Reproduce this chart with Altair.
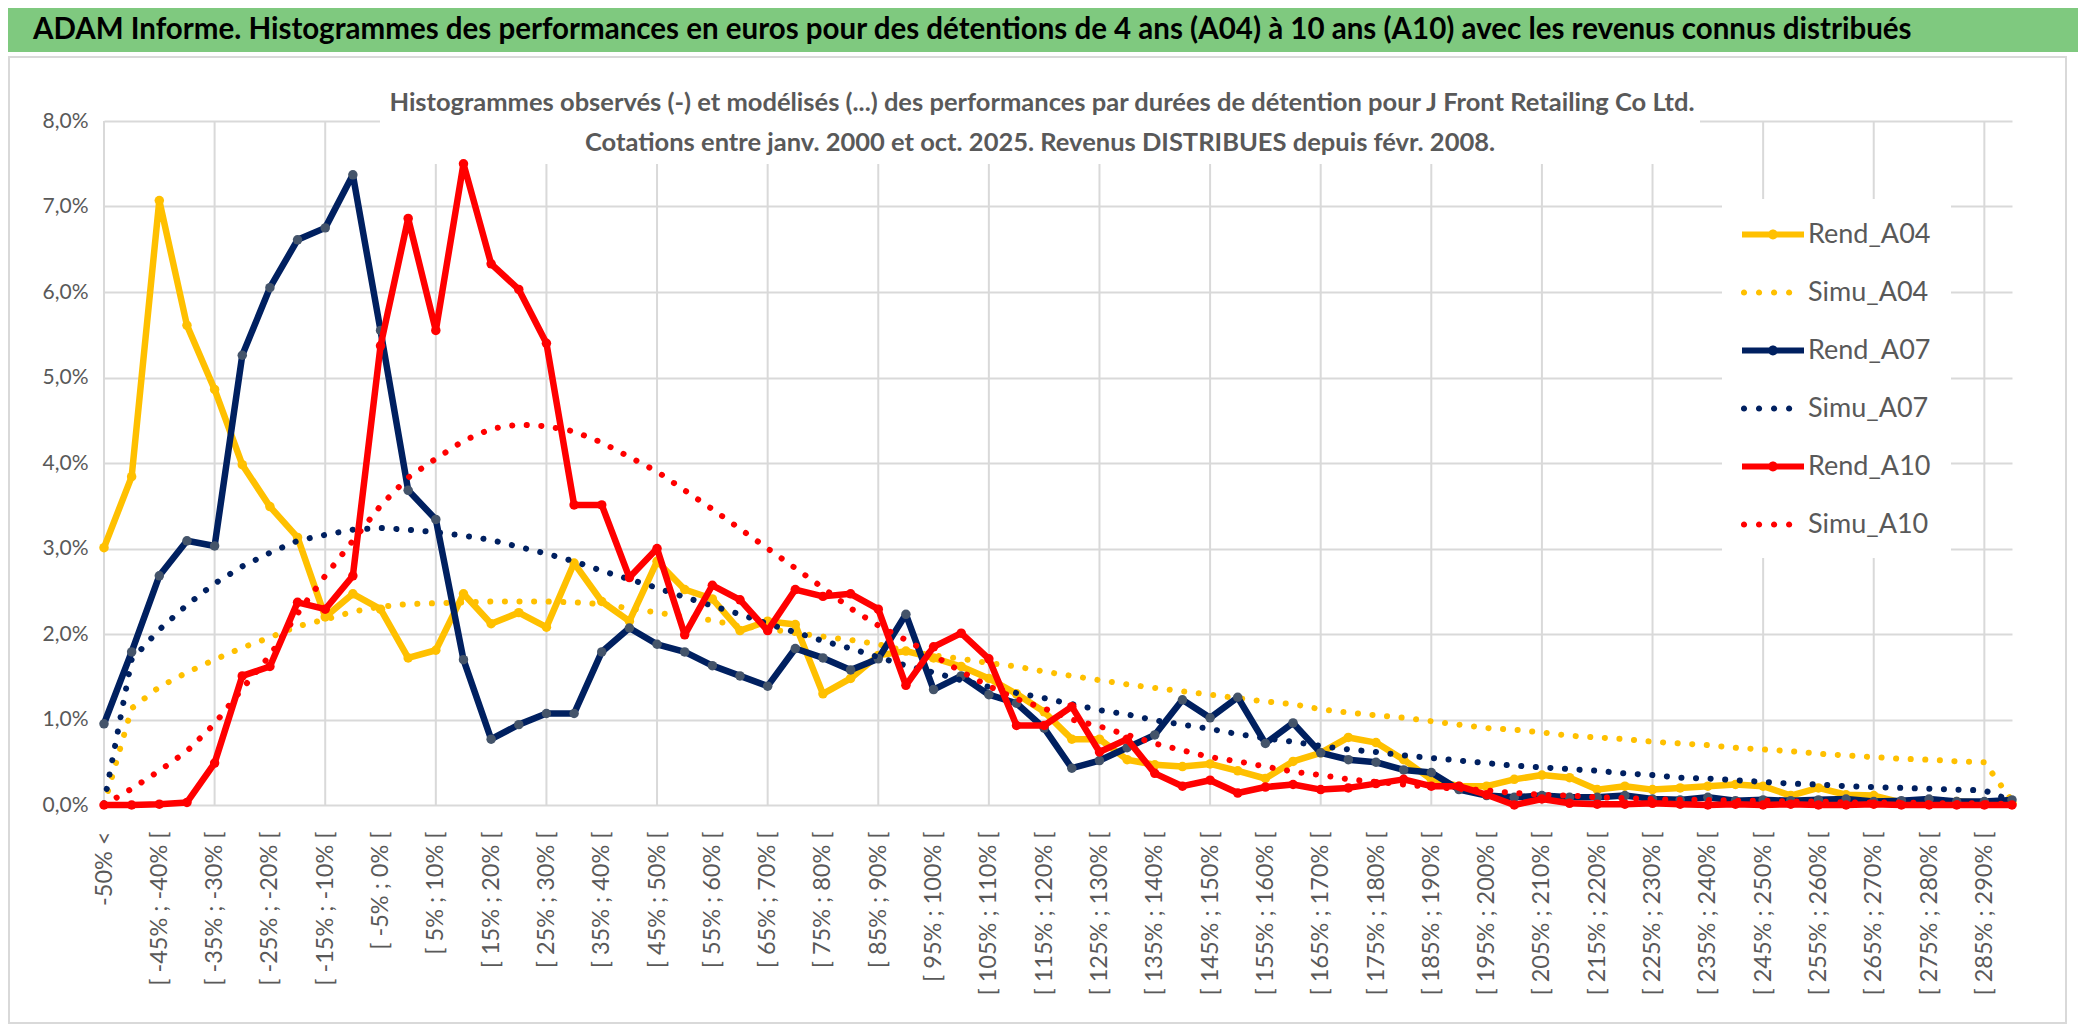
import altair as alt
import pandas as pd

# ---------------- data ----------------
categories = ["-50% <"] + [f"[ {-50 + 5 * k}% ; {-45 + 5 * k}% [" for k in range(69)]
label_values = categories[::2]
grid_values = categories[::4]

series_names = ["Rend_A04", "Simu_A04", "Rend_A07", "Simu_A07", "Rend_A10", "Simu_A10"]
series_colors = ["#FFC000", "#FFC000", "#002060", "#002060", "#FF0000", "#FF0000"]
marker_colors = {"Rend_A04": "#FFC000", "Rend_A07": "#44546A", "Rend_A10": "#FF0000"}

# values in %
rend_a04 = [3.01, 3.84, 7.07, 5.61, 4.86, 3.98, 3.49, 3.13, 2.20, 2.47,
            2.29, 1.72, 1.81, 2.47, 2.12, 2.25, 2.08, 2.83, 2.38, 2.15,
            2.85, 2.52, 2.41, 2.04, 2.15, 2.11, 1.30, 1.48, 1.75, 1.80,
            1.72, 1.62, 1.48, 1.30, 1.09, 0.77, 0.77, 0.53, 0.47, 0.45,
            0.48, 0.40, 0.31, 0.51, 0.61, 0.79, 0.73, 0.53, 0.30, 0.22,
            0.22, 0.30, 0.35, 0.32, 0.18, 0.22, 0.18, 0.20, 0.22, 0.24,
            0.22, 0.11, 0.20, 0.12, 0.11, 0.03, 0.05, 0.04, 0.03, 0.02]
simu_a04 = [0.00, 1.13, 1.38, 1.55, 1.70, 1.84, 1.96, 2.09, 2.17, 2.26,
            2.32, 2.35, 2.36, 2.37, 2.38, 2.38, 2.38, 2.37, 2.35, 2.30,
            2.25, 2.20, 2.16, 2.09, 2.06, 2.01, 1.97, 1.93, 1.88, 1.80,
            1.75, 1.71, 1.66, 1.62, 1.56, 1.51, 1.46, 1.41, 1.37, 1.33,
            1.29, 1.25, 1.21, 1.18, 1.12, 1.08, 1.05, 1.02, 0.98, 0.94,
            0.90, 0.88, 0.85, 0.81, 0.79, 0.77, 0.74, 0.72, 0.70, 0.67,
            0.65, 0.63, 0.60, 0.58, 0.56, 0.54, 0.53, 0.51, 0.50, 0.05]
rend_a07 = [0.95, 1.79, 2.68, 3.09, 3.03, 5.26, 6.05, 6.61, 6.75, 7.37,
            5.55, 3.68, 3.34, 1.70, 0.77, 0.94, 1.07, 1.07, 1.79, 2.07,
            1.88, 1.79, 1.63, 1.51, 1.39, 1.83, 1.72, 1.58, 1.71, 2.23,
            1.35, 1.51, 1.29, 1.19, 0.90, 0.43, 0.52, 0.67, 0.82, 1.23,
            1.02, 1.26, 0.72, 0.96, 0.61, 0.53, 0.50, 0.41, 0.38, 0.18,
            0.11, 0.09, 0.11, 0.09, 0.09, 0.11, 0.07, 0.06, 0.09, 0.05,
            0.06, 0.05, 0.06, 0.07, 0.04, 0.05, 0.07, 0.04, 0.04, 0.06]
simu_a07 = [0.02, 1.70, 2.05, 2.34, 2.59, 2.79, 2.95, 3.09, 3.16, 3.22,
            3.24, 3.22, 3.19, 3.15, 3.10, 3.02, 2.94, 2.85, 2.74, 2.64,
            2.54, 2.43, 2.33, 2.23, 2.12, 2.02, 1.92, 1.83, 1.73, 1.63,
            1.55, 1.46, 1.38, 1.31, 1.25, 1.18, 1.11, 1.06, 0.99, 0.94,
            0.89, 0.83, 0.78, 0.74, 0.69, 0.65, 0.62, 0.58, 0.55, 0.52,
            0.49, 0.46, 0.44, 0.42, 0.40, 0.37, 0.35, 0.32, 0.31, 0.29,
            0.27, 0.25, 0.24, 0.22, 0.21, 0.20, 0.19, 0.18, 0.17, 0.05]
rend_a10 = [0.00, 0.00, 0.01, 0.03, 0.49, 1.51, 1.62, 2.37, 2.29, 2.68,
            5.37, 6.86, 5.55, 7.50, 6.33, 6.03, 5.40, 3.51, 3.51, 2.66,
            3.00, 1.99, 2.57, 2.40, 2.04, 2.52, 2.44, 2.47, 2.29, 1.40,
            1.85, 2.01, 1.71, 0.93, 0.93, 1.15, 0.62, 0.77, 0.37, 0.22,
            0.29, 0.14, 0.21, 0.24, 0.18, 0.20, 0.25, 0.30, 0.22, 0.22,
            0.12, 0.00, 0.07, 0.02, 0.01, 0.01, 0.02, 0.01, 0.00, 0.01,
            0.00, 0.01, 0.00, 0.00, 0.01, 0.00, 0.00, 0.00, 0.00, 0.00]
simu_a10 = [0.00, 0.19, 0.40, 0.63, 0.95, 1.36, 1.75, 2.24, 2.68, 3.09,
            3.50, 3.83, 4.05, 4.26, 4.40, 4.45, 4.43, 4.37, 4.24, 4.07,
            3.90, 3.68, 3.46, 3.23, 3.00, 2.77, 2.54, 2.30, 2.10, 1.93,
            1.75, 1.56, 1.39, 1.24, 1.13, 1.00, 0.92, 0.82, 0.72, 0.64,
            0.56, 0.51, 0.45, 0.39, 0.35, 0.30, 0.27, 0.24, 0.21, 0.19,
            0.17, 0.14, 0.12, 0.11, 0.09, 0.08, 0.07, 0.06, 0.06, 0.05,
            0.05, 0.04, 0.04, 0.03, 0.03, 0.03, 0.02, 0.02, 0.02, 0.01]

series_values = [rend_a04, simu_a04, rend_a07, simu_a07, rend_a10, simu_a10]

main_title = ("ADAM Informe. Histogrammes des performances en euros pour des détentions "
              "de 4 ans (A04) à 10 ans (A10) avec les revenus connus distribués")
sub_title_1 = ("Histogrammes observés (-) et modélisés (...) des performances par durées "
               "de détention pour J Front Retailing Co Ltd.")
sub_title_2 = "Cotations entre janv. 2000 et oct. 2025. Revenus DISTRIBUES depuis févr. 2008."

rows = []
for name, vals in zip(series_names, series_values):
    for i, (cat, v) in enumerate(zip(categories, vals)):
        rows.append({"serie": name, "cat": cat, "idx": i, "val": v / 100.0})
df = pd.DataFrame(rows)
grid_df = pd.DataFrame({"cat": grid_values})
one = pd.DataFrame({"k": [0]})

# ---------------- styles ----------------
GRAY = "#595959"
GRID = "#D9D9D9"
W, H = 1908, 684
PAD_L, PAD_T = 96, 113

x_enc = alt.X(
    "cat:N",
    scale=alt.Scale(type="point", padding=0, domain=categories),
    axis=alt.Axis(values=label_values, labelAngle=270, labelFont="Lato",
                  labelFontSize=23.5, labelColor=GRAY, labelPadding=26,
                  labelOverlap=False, labelLimit=400, ticks=False, domain=False,
                  grid=False, title=None),
)
y_enc = alt.Y(
    "val:Q",
    scale=alt.Scale(domain=[0, 0.08], nice=False, zero=True),
    axis=alt.Axis(values=[k / 100 for k in range(9)],
                  labelExpr="replace(format(datum.value, '.1%'), '.', ',')",
                  labelFont="Lato", labelFontSize=21, labelColor=GRAY,
                  labelPadding=16, ticks=False, domain=False, grid=True,
                  gridColor=GRID, gridWidth=2, title=None),
)

# legend symbols: line with a dot (observed) / row of dots (model)
def circ(cx, r):
    return f"M{cx + r},0A{r},{r} 0 1,1 {cx - r},0A{r},{r} 0 1,1 {cx + r},0Z"

REND_PATH = "M-1,-0.2L3,-0.2L3,0.2L-1,0.2Z" + circ(1, 0.32)
SIMU_PATH = "".join(circ(c, 0.2) for c in (-0.87, 0.1, 1.07, 2.04))
legend_shapes = [REND_PATH, SIMU_PATH] * 3

legend = alt.Legend(
    title=None, orient="none", legendX=1618, legendY=78, direction="vertical",
    fillColor="white", padding=20, symbolSize=961, symbolStrokeWidth=0,
    symbolOpacity=1, labelFont="Lato", labelFontSize=27, labelColor=GRAY,
    labelOffset=35, rowPadding=29, labelLimit=400,
)
color_scale = alt.Scale(domain=series_names, range=series_colors)
color_of = dict(zip(series_names, series_colors))

layers = []
# outer frame of the chart area
layers.append(alt.Chart(one).mark_rect(fillOpacity=0, stroke=GRID, strokeWidth=2).encode(
    x=alt.value(-PAD_L + 1), x2=alt.value(W + 54), y=alt.value(-64), y2=alt.value(902)))
# vertical gridlines every 4 categories
layers.append(alt.Chart(grid_df).mark_rule(color=GRID, strokeWidth=2).encode(x=x_enc))
# white box behind the chart title (hides gridlines like the original)
layers.append(alt.Chart(one).mark_rect(color="white").encode(
    x=alt.value(276), x2=alt.value(1596), y=alt.value(-50), y2=alt.value(43)))

for name in series_names:
    base = alt.Chart(df).transform_filter(alt.datum.serie == name)
    if name.startswith("Rend"):
        layers.append(base.mark_line(strokeWidth=6.5, strokeCap="round", strokeJoin="round").encode(
            x=x_enc, y=y_enc, color=alt.value(color_of[name]), order=alt.Order("idx:Q")))
        layers.append(base.mark_point(filled=True, size=90, opacity=1).encode(
            x=x_enc, y=y_enc, color=alt.value(marker_colors[name])))
    else:
        layers.append(base.mark_line(strokeWidth=6, strokeCap="round", strokeDash=[0.1, 14.5]).encode(
            x=x_enc, y=y_enc, color=alt.value(color_of[name]), order=alt.Order("idx:Q")))

# invisible layer that only carries the legend (colour + custom symbol shapes)
layers.append(alt.Chart(df).transform_filter(alt.datum.idx == 0).mark_point(
    filled=True, opacity=0, size=961).encode(
    x=x_enc, y=y_enc,
    color=alt.Color("serie:N", scale=color_scale, legend=legend),
    shape=alt.Shape("serie:N", scale=alt.Scale(domain=series_names, range=legend_shapes),
                    legend=legend),
))

# header band + titles
layers.append(alt.Chart(one).mark_rect(color="#7FC97F").encode(
    x=alt.value(-PAD_L), x2=alt.value(W + 66), y=alt.value(-PAD_T), y2=alt.value(-69)))
layers.append(alt.Chart(one).mark_text(font="Lato", fontSize=29.5, fontWeight="bold", color="black",
                                       align="left", baseline="middle").encode(
    x=alt.value(-71), y=alt.value(-91), text=alt.value(main_title)))
layers.append(alt.Chart(one).mark_text(font="Lato", fontSize=25.5, fontWeight="bold", color=GRAY,
                                       align="center", baseline="middle").encode(
    x=alt.value(938), y=alt.value(-18), text=alt.value(sub_title_1)))
layers.append(alt.Chart(one).mark_text(font="Lato", fontSize=25.5, fontWeight="bold", color=GRAY,
                                       align="center", baseline="middle").encode(
    x=alt.value(936), y=alt.value(22), text=alt.value(sub_title_2)))

chart = alt.layer(*layers).properties(
    width=W, height=H,
    padding={"left": PAD_L, "top": PAD_T, "right": 66, "bottom": 220},
    autosize=alt.AutoSizeParams(type="none"),
    background="white",
).configure_view(stroke=None)

chart.save("out.html", embed_options={"renderer": "svg", "actions": False})
